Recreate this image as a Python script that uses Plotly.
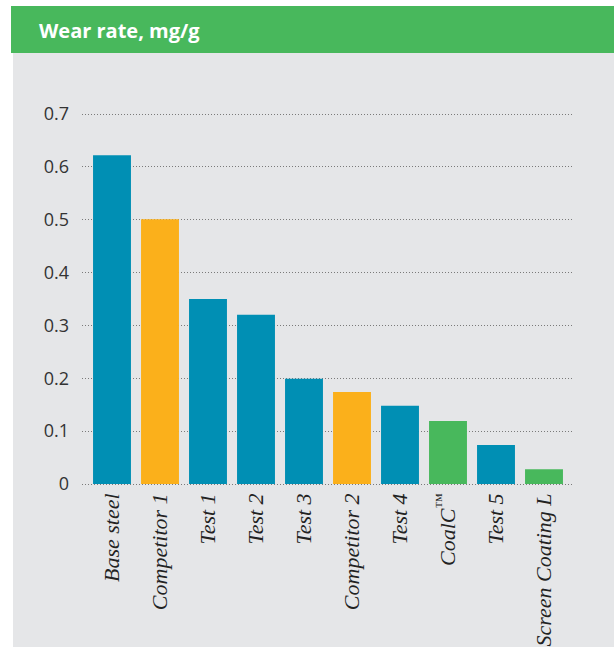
import plotly.graph_objects as go

categories = ["Base steel", "Competitor 1", "Test 1", "Test 2", "Test 3",
              "Competitor 2", "Test 4", "CoalC™", "Test 5", "Screen Coating L"]
values = [0.622, 0.501, 0.350, 0.320, 0.199, 0.174, 0.148, 0.119, 0.074, 0.028]
groups = ["test", "competitor", "test", "test", "test",
          "competitor", "test", "product", "test", "product"]
y_ticks = [0, 0.1, 0.2, 0.3, 0.4, 0.5, 0.6, 0.7]
y_ticklabels = ["0", "0.1", "0.2", "0.3", "0.4", "0.5", "0.6", "0.7"]
title = "Wear rate, mg/g"

BLUE = "#008fb4"
ORANGE = "#fbb01b"
GREEN = "#48b85c"
GRAY = "#e5e6e8"
colour_map = {"test": BLUE, "competitor": ORANGE, "product": GREEN}

W, H = 614, 647
L, R = 82, 574      # plot area x pixels
T, B = 104, 494     # plot area y pixels
Y0_PX, Y7_PX = 484, 114   # pixel rows of value 0 and 0.7
unit = (Y0_PX - Y7_PX) / 0.7
ymin = -(B - Y0_PX) / unit
ymax = 0.7 + (Y7_PX - T) / unit
pw, ph = R - L, B - T

def px(x):
    return (x - L) / pw

def py(y):
    return (B - y) / ph

def label(c):
    c = c.replace("™", "<sup>™</sup>")
    return f"<i>{c}</i>"

fig = go.Figure()
fig.add_trace(go.Bar(
    x=list(range(len(categories))),
    y=values,
    marker=dict(color=[colour_map[g] for g in groups], line=dict(width=0)),
    hoverinfo="skip",
))

fig.update_layout(
    width=W, height=H,
    autosize=False,
    margin=dict(l=L, r=W - R, t=T, b=H - B, pad=0, autoexpand=False),
    paper_bgcolor="white",
    plot_bgcolor="rgba(0,0,0,0)",
    showlegend=False,
    bargap=0.21,
    xaxis=dict(
        range=[-0.625, len(categories) - 1 + 0.625],
        tickmode="array",
        tickvals=list(range(len(categories))),
        ticktext=[label(c) for c in categories],
        tickangle=-90,
        tickfont=dict(family="Liberation Serif", size=22, color="#222222"),
        showgrid=False, zeroline=False, showline=False, ticks="",
        ticklabelstandoff=-6,
        automargin=False,
        fixedrange=True,
    ),
    yaxis=dict(
        range=[ymin, ymax],
        tickmode="array",
        tickvals=y_ticks,
        ticktext=y_ticklabels,
        tickfont=dict(family="Open Sans", size=18, color="#333333"),
        showgrid=True, gridcolor="#7a7a7a", griddash="1px,2px", gridwidth=1,
        zeroline=False, showline=False, ticks="",
        ticklabelstandoff=12,
        automargin=False,
        fixedrange=True,
    ),
    shapes=[
        dict(type="rect", xref="paper", yref="paper", layer="below",
             x0=px(13), x1=px(W + 2), y0=py(H + 2), y1=py(52),
             fillcolor=GRAY, line=dict(width=0)),
        dict(type="rect", xref="paper", yref="paper", layer="below",
             x0=px(11), x1=px(W + 2), y0=py(53), y1=py(6),
             fillcolor=GREEN, line=dict(width=0)),
    ],
    annotations=[
        dict(text=f"<b>{title}</b>", xref="paper", yref="paper",
             x=px(37), y=py(30), xanchor="left", yanchor="middle",
             showarrow=False,
             font=dict(family="Open Sans", size=20, color="white")),
    ],
)

fig.write_html("out.html",
               config={"displayModeBar": False, "responsive": False},
               post_script="document.body.style.margin='0';document.body.style.overflow='hidden';")
